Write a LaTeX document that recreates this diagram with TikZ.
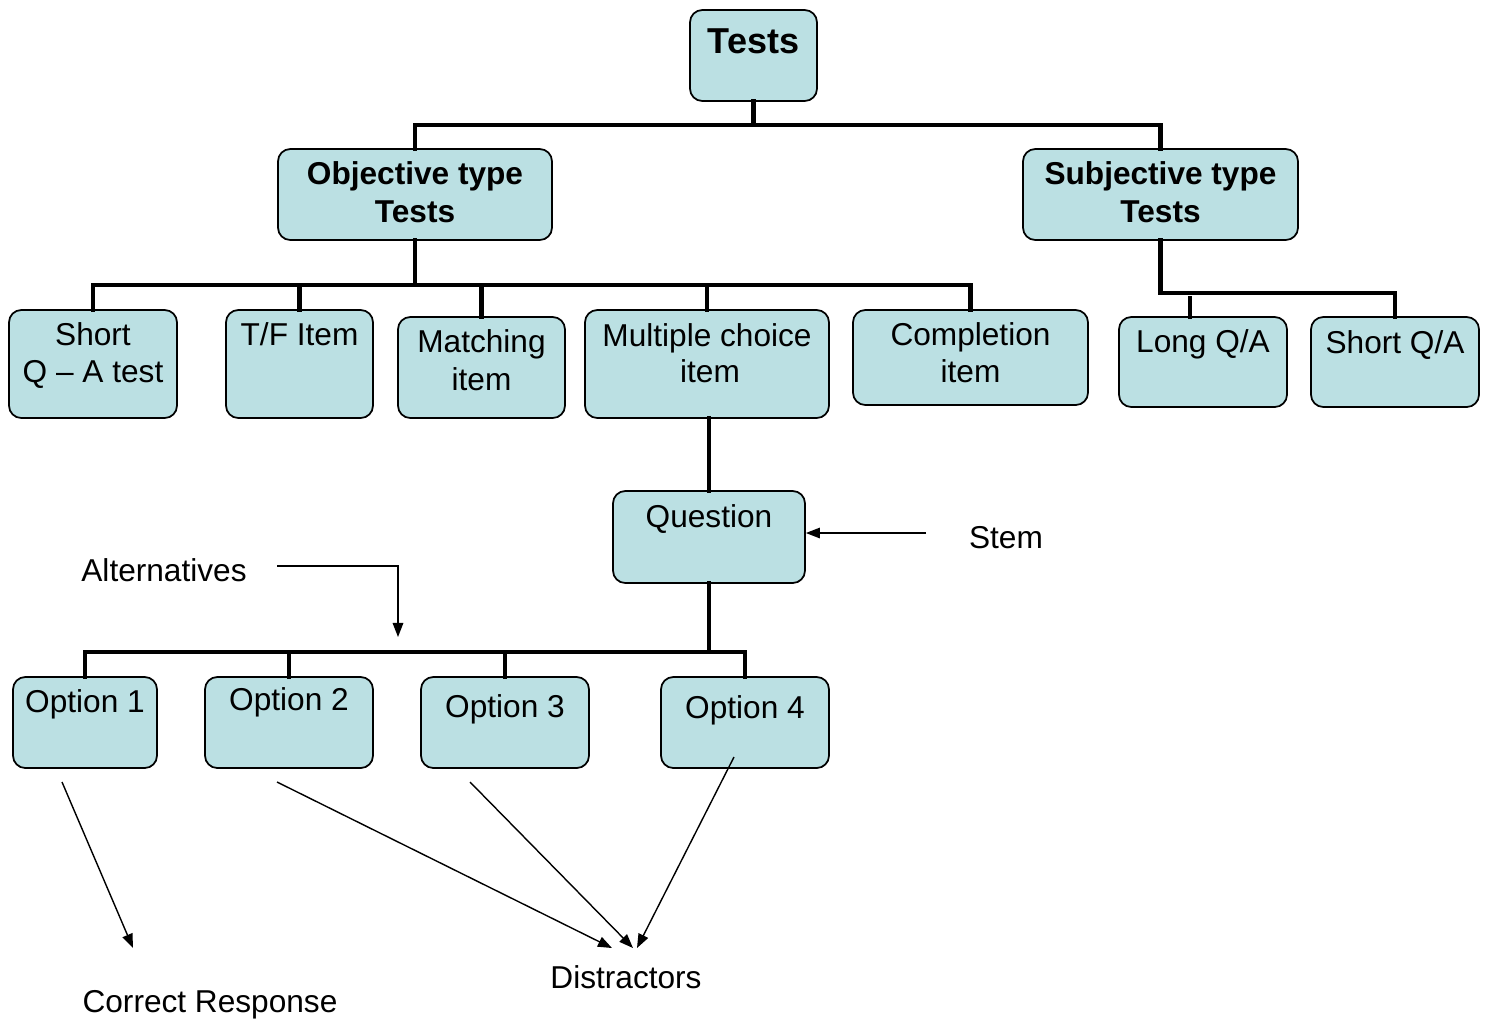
\documentclass[tikz,border=0pt]{standalone}
\usepackage{fontspec}
\setmainfont{Liberation Sans}
\usetikzlibrary{arrows.meta}
\definecolor{boxfill}{RGB}{187,224,227}
\tikzset{
  box/.style={draw=black, line width=1pt, fill=boxfill, rounded corners=7pt, inner sep=0pt},
  wh/.style 2 args={minimum width=#1*0.02cm, minimum height=#2*0.02cm},
  txt/.style={anchor=base, inner sep=0pt, align=center, font=\fontsize{18}{21.5}\selectfont},
  btxt/.style={anchor=base, inner sep=0pt, align=center, font=\fontsize{18}{21.5}\selectfont\bfseries},
  conn/.style={line width=2.8pt, line cap=rect},
  arr/.style={line width=0.8pt, -{Triangle[length=8pt,width=6pt]}},
  thin/.style={line width=0.8pt}
}
\begin{document}
\begin{tikzpicture}[x=0.02cm, y=-0.02cm]
\useasboundingbox (0,0) rectangle (1488,1019);

% coordinates for bus lines
\coordinate (h1) at (0,125);
\coordinate (h2) at (0,285);
\coordinate (h3) at (0,293);
\coordinate (h4) at (0,652);
\coordinate (stub) at (1190,298);

% connectors first (behind boxes)
\node[box, wh={127}{91}] (tests) at (753.5,55.5) {};
\node[box, wh={274}{91}] (obj) at (415,194.5) {};
\node[box, wh={275}{91}] (subj) at (1160.5,194.5) {};
\node[box, wh={168}{108}] (sqa) at (93,364) {};
\node[box, wh={147}{108}] (tf) at (299.5,364) {};
\node[box, wh={167}{101}] (match) at (481.5,367.5) {};
\node[box, wh={244}{108}] (mc) at (707,364) {};
\node[box, wh={235}{95}] (comp) at (970.5,357.5) {};
\node[box, wh={168}{90}] (lqa) at (1203,362) {};
\node[box, wh={168}{90}] (shqa) at (1395,362) {};
\node[box, wh={192}{92}] (quest) at (709,537) {};
\node[box, wh={144}{91}] (o1) at (85,722.5) {};
\node[box, wh={168}{91}] (o2) at (289,722.5) {};
\node[box, wh={168}{91}] (o3) at (505,722.5) {};
\node[box, wh={168}{91}] (o4) at (745,722.5) {};

% thick tree connectors
\draw[conn] (tests.south) -- (tests.south |- h1);
\draw[conn] (obj.north) |- (subj.north |- h1) -- (subj.north);
\draw[conn] (obj.south) -- (obj.south |- h2);
\draw[conn] (sqa.north) |- (comp.north |- h2) -- (comp.north);
\draw[conn] (tf.north) -- (tf.north |- h2);
\draw[conn] (match.north) -- (match.north |- h2);
\draw[conn] (mc.north) -- (mc.north |- h2);
\draw[conn] (subj.south) |- (shqa.north |- h3) -- (shqa.north);
\draw[conn] (stub) -- (stub |- lqa.north);
\draw[conn] (quest.north |- mc.south) -- (quest.north);
\draw[conn] (quest.south) -- (quest.south |- h4);
\draw[conn] (o1.north) |- (o4.north |- h4) -- (o4.north);
\draw[conn] (o2.north) -- (o2.north |- h4);
\draw[conn] (o3.north) -- (o3.north |- h4);

% texts inside boxes
\node[btxt, font=\fontsize{20.5}{24}\selectfont\bfseries] (tTests) at (753.5,53) {Tests};
\node[btxt] (tObj1) at (415,184) {Objective type};
\node[btxt] (tObj2) at (415,222) {Tests};
\node[btxt] (tSub1) at (1160.5,184) {Subjective type};
\node[btxt] (tSub2) at (1160.5,222) {Tests};
\node[txt] (tSqa1) at (93,345) {Short};
\node[txt] (tSqa2) at (93,382) {Q – A test};
\node[txt] (tTf) at (299.5,345) {T/F Item};
\node[txt] (tM1) at (481.5,352.5) {Matching};
\node[txt] (tM2) at (481.5,390) {item};
\node[txt] (tMc1) at (707,346.5) {Multiple choice};
\node[txt] (tMc2) at (710,382) {item};
\node[txt] (tC1) at (970.5,345) {Completion};
\node[txt] (tC2) at (970.5,382) {item};
\node[txt] (tL) at (1203,352) {Long Q/A};
\node[txt] (tS) at (1395,353) {Short Q/A};
\node[txt] (tQ) at (709,527) {Question};
\node[txt] (tO1) at (85,712) {Option 1};
\node[txt] (tO2) at (289,710) {Option 2};
\node[txt] (tO3) at (505,717) {Option 3};
\node[txt] (tO4) at (745,718) {Option 4};

% free labels
\node[txt] (stem) at (1006,548) {Stem};
\node[txt] (alt) at (164,581) {Alternatives};
\node[txt] (dist) at (626,988) {Distractors};
\node[txt] (corr) at (210,1012) {Correct Response};

% thin arrows
\coordinate (stemtail) at (926,533);
\draw[arr] (stemtail) -- (quest.east |- stemtail);
\coordinate (alttail) at (277,566);
\coordinate (althead) at (398,637);
\draw[arr] (alttail) -| (althead);
\coordinate (t1) at (62,782);
\coordinate (e1) at (133,948);
\coordinate (t2) at (277,782);
\coordinate (e2) at (612,948);
\coordinate (t3) at (470,782);
\coordinate (e3) at (633,948);
\coordinate (t4) at (734,757);
\coordinate (e4) at (637,948);
\draw[arr] (t1) -- (e1);
\draw[arr] (t2) -- (e2);
\draw[arr] (t3) -- (e3);
\draw[arr] (t4) -- (e4);
\end{tikzpicture}
\end{document}
